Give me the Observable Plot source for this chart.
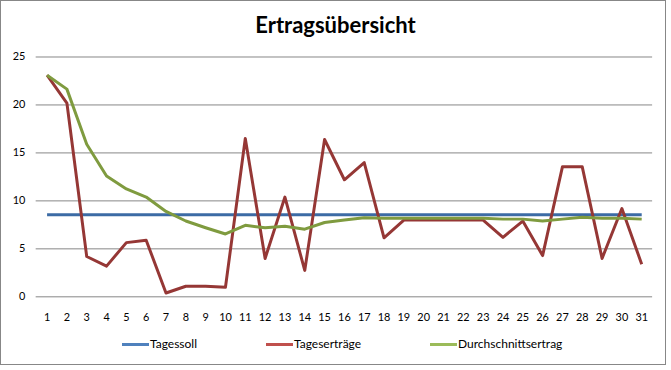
<!DOCTYPE html>
<html>
<head>
<meta charset="utf-8">
<script src="https://cdn.jsdelivr.net/npm/d3@7"></script>
<script src="https://cdn.jsdelivr.net/npm/@observablehq/plot@0.6"></script>
<style>
  html, body { margin: 0; padding: 0; background: #fff; }
  #chart { position: relative; width: 664px; height: 363px; border: 1px solid #878787; background: #fff; overflow: hidden; font-family: Lato, "Open Sans", sans-serif; }
  #title { position: absolute; left: -1px; top: 10px; width: 671px; text-align: center; font-size: 22px; font-weight: bold; color: #000; font-family: Lato, sans-serif; }
  #plot { position: absolute; left: -1px; top: -1px; }
  .leg { position: absolute; top: 335px; font-size: 12px; color: #000; height: 16px; line-height: 16px; white-space: nowrap; }
  .leg span.sw { display: inline-block; width: 27px; height: 3px; vertical-align: middle; margin-right: 1px; }
</style>
</head>
<body>
<div id="chart">
  <div id="plot"></div>
  <div id="title">Ertragsübersicht</div>
  <div id="legend"></div>
</div>
<script>
const days = d3.range(1, 32);
const seriesNames = ["Tagessoll", "Tageserträge", "Durchschnittsertrag"];
const lineColors = ["#3C6BA5", "#953735", "#7F9B3F"];
const legendColors = ["#4F81BD", "#C0504D", "#9BBB59"];
const yTicks = [0, 5, 10, 15, 20, 25];

const tagessoll = 8.55;
const tagesertraege = [23.1, 20.2, 4.2, 3.2, 5.65, 5.9, 0.4, 1.1, 1.1, 1.0,
  16.5, 4.0, 10.4, 2.75, 16.4, 12.2, 14.0, 6.15, 8.0, 8.0,
  8.0, 8.0, 8.0, 6.2, 7.9, 4.3, 13.55, 13.55, 4.0, 9.2, 3.4];
const durchschnitt = [23.1, 21.65, 15.9, 12.6, 11.25, 10.4, 8.9, 7.9, 7.2, 6.55,
  7.45, 7.2, 7.35, 7.05, 7.75, 8.0, 8.25, 8.2, 8.2, 8.2,
  8.2, 8.2, 8.2, 8.1, 8.1, 7.9, 8.1, 8.3, 8.2, 8.2, 8.1];

const data = [];
days.forEach((d, i) => {
  data.push({day: d, value: tagessoll, series: seriesNames[0]});
  data.push({day: d, value: tagesertraege[i], series: seriesNames[1]});
  data.push({day: d, value: durchschnitt[i], series: seriesNames[2]});
});

const W = 671, H = 330;
const plot = Plot.plot({
  width: W,
  height: H,
  marginLeft: 36,
  marginRight: 13,
  marginTop: 57,
  marginBottom: 31,
  style: {fontFamily: "Lato, sans-serif", fontSize: "11px", color: "#000", background: "transparent"},
  x: {type: "point", domain: days, padding: 0.5, label: null},
  y: {domain: [0, 25], label: null},
  color: {domain: seriesNames, range: lineColors},
  marks: [
    Plot.ruleY(yTicks, {stroke: "#868686", strokeWidth: 1, strokeOpacity: 1}),
    Plot.axisY({ticks: yTicks, tickSize: 0, tickPadding: 11, label: null, fill: "#000"}),
    Plot.axisX({ticks: days, tickSize: 0, tickPadding: 17, label: null, fill: "#000"}),
    Plot.line(data, {x: "day", y: "value", z: "series", stroke: "series", strokeWidth: 3, strokeLinejoin: "round", strokeLinecap: "butt", curve: "linear"})
  ]
});
document.getElementById("plot").appendChild(plot);

const legX = [122, 266, 430];
const leg = document.getElementById("legend");
seriesNames.forEach((name, i) => {
  const el = document.createElement("div");
  el.className = "leg";
  el.style.left = (legX[i] - 1) + "px";
  el.innerHTML = `<span class="sw" style="background:${legendColors[i]}"></span>${name}`;
  leg.appendChild(el);
});
</script>
</body>
</html>
